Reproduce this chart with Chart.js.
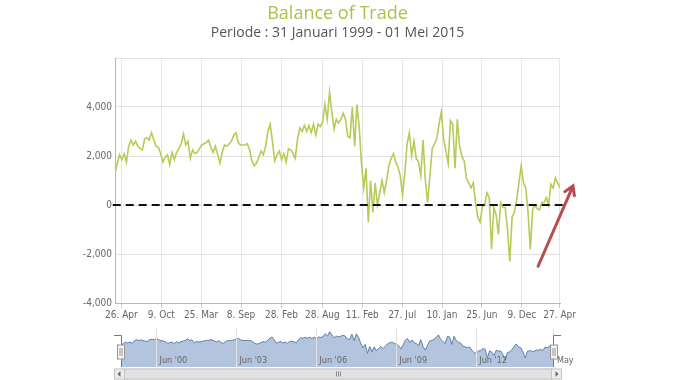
<!DOCTYPE html>
<html>
<head>
    <title>Balance of Trade</title>
    <meta charset="utf-8" />
    <script src="https://cdn.jsdelivr.net/npm/chart.js"></script>
    <style>
        html, body { margin: 0; padding: 0; background: #fff; }
        #wrap { position: relative; width: 675px; height: 380px; }
        #mainChart { position: absolute; left: 0; top: 0; }
        #navChart { position: absolute; left: 0; top: 325px; }
    </style>
</head>
<body>
    <div id="wrap">
        <canvas id="mainChart" width="675" height="325"></canvas>
        <canvas id="navChart" width="675" height="55"></canvas>
    </div>

    <script>
        // data: monthly balance of trade, Jan 1999 .. Apr 2015 (x = month index)
        const startDate = '1999-01-31';
        const tradeValues = [
            1300, 1700, 2050, 1850, 2100, 1750, 2400, 2650, 2450, 2600,
            2400, 2300, 2250, 2700, 2750, 2650, 2950, 2650, 2400, 2350,
            2100, 1750, 1950, 2050, 1650, 2150, 1850, 2150, 2300, 2500,
            2900, 2450, 2600, 1900, 2250, 2100, 2150, 2300, 2450, 2500,
            2550, 2650, 2350, 2150, 2400, 2050, 1700, 2150, 2450, 2400,
            2500, 2600, 2850, 2950, 2550, 2450, 2450, 2450, 2500, 2250,
            1800, 1600, 1700, 1950, 2200, 2050, 2400, 3000, 3300, 2600,
            1800, 2050, 2200, 1850, 2100, 1750, 2300, 2250, 2100, 1900,
            2700, 3150, 3000, 3250, 3000, 3250, 2950, 3300, 2850, 3300,
            3200, 3400, 4100, 3500, 4600, 3800, 3100, 3500, 3350, 3500,
            3750, 3500, 2800, 2750, 4000, 2400, 4100, 3200, 1700, 700,
            1500, -700, 1000, -300, 900, 0, 500, 1000, 500, 1000,
            1600, 1900, 2100, 1750, 1550, 1200, 400, 1300, 2500, 2950,
            2000, 2600, 1900, 1750, 1200, 2650, 1000, 100, 1200, 2300,
            2500, 2700, 3300, 3800, 2700, 2200, 1700, 3450, 3300, 1500,
            3500, 2400, 2000, 1800, 1100, 900, 700, 900, 100, -500,
            -700, -70, 0, 500, 300, -1800, -100, -400, -1200, 100,
            -100, -100, -1000, -2300, -500, -300, 200, 900, 1600, 900,
            700, -300, -1800, -200, 0, -150, -200, 100, 100, 300,
            0, 850, 700, 1100, 900, 700
        ];
        const xTickDates = ['1999-04-26', '2000-10-09', '2002-03-25', '2003-09-08', '2005-02-28', '2006-08-28',
                            '2008-02-11', '2009-07-27', '2011-01-10', '2012-06-25', '2013-12-09', '2015-04-27'];
        const xTickLabels = ['26. Apr', '9. Oct', '25. Mar', '8. Sep', '28. Feb', '28. Aug',
                             '11. Feb', '27. Jul', '10. Jan', '25. Jun', '9. Dec', '27. Apr'];
        const navTickDates = ['2000-06-01', '2003-06-01', '2006-06-01', '2009-06-01', '2012-06-01', '2015-05-01'];
        const navTickLabels = ["Jun '00", "Jun '03", "Jun '06", "Jun '09", "Jun '12", 'May'];
        const yMin = -4000, yMax = 6000, yStep = 2000;

        // date string -> month index
        function monthIndex(d) {
            return (Date.parse(d) - Date.parse(startDate)) / 86400000 / 30.4375;
        }
        const points = tradeValues.map((v, i) => ({ x: i, y: v }));
        const xMax = tradeValues.length - 1;
        const tickFont = { family: "'Liberation Sans Narrow', 'DejaVu Sans Condensed', 'Roboto', sans-serif", size: 10 };

        // red arrow, in data units
        const arrowFrom = { x: 185.4, y: -2500 };
        const arrowTo = { x: 200.7, y: 780 };

        const arrowPlugin = {
            id: 'arrow',
            afterDraw(chart) {
                const c = chart.ctx, xs = chart.scales.x, ys = chart.scales.y;
                const x1 = xs.getPixelForValue(arrowFrom.x), y1 = ys.getPixelForValue(arrowFrom.y);
                const x2 = xs.getPixelForValue(arrowTo.x), y2 = ys.getPixelForValue(arrowTo.y);
                const a = Math.atan2(y2 - y1, x2 - x1);
                c.save();
                c.strokeStyle = '#b84d4d';
                c.lineWidth = 3;
                c.lineCap = 'round';
                c.beginPath();
                c.moveTo(x1, y1);
                c.lineTo(x2, y2);
                c.moveTo(x2 - 10 * Math.cos(a - 0.55), y2 - 10 * Math.sin(a - 0.55));
                c.lineTo(x2, y2);
                c.lineTo(x2 - 10 * Math.cos(a + 0.55), y2 - 10 * Math.sin(a + 0.55));
                c.stroke();
                c.restore();
            }
        };

        const mainChart = new Chart(document.getElementById('mainChart'), {
            type: 'line',
            data: {
                datasets: [{
                    // zero line, drawn on top
                    data: [{ x: -1, y: 0 }, { x: xMax + 1.5, y: 0 }],
                    borderColor: '#111',
                    borderWidth: 2,
                    borderDash: [8, 5],
                    pointRadius: 0,
                    clip: false,
                    order: 0
                }, {
                    label: 'Balance of Trade',
                    data: points,
                    borderColor: '#bac957',
                    borderWidth: 1.6,
                    pointRadius: 0,
                    tension: 0,
                    order: 1
                }]
            },
            options: {
                responsive: false,
                animation: false,
                layout: { padding: 0 },
                plugins: {
                    legend: { display: false },
                    tooltip: { enabled: false },
                    title: {
                        display: true,
                        text: 'Balance of Trade',
                        color: '#a9c24a',
                        font: { family: "'Open Sans', sans-serif", size: 18, weight: 'normal' },
                        padding: { top: 3, bottom: 0 }
                    },
                    subtitle: {
                        display: true,
                        text: 'Periode : 31 Januari 1999 - 01 Mei 2015',
                        color: '#555',
                        font: { family: "'Open Sans', sans-serif", size: 14 },
                        padding: { top: 0, bottom: 16.6 }
                    }
                },
                scales: {
                    x: {
                        type: 'linear',
                        min: 0,
                        max: xMax,
                        afterBuildTicks: s => { s.ticks = xTickDates.map(d => ({ value: monthIndex(d) })); },
                        afterFit: s => { s.height = 22; },
                        ticks: {
                            autoSkip: false,
                            maxRotation: 0,
                            padding: 1,
                            color: '#666',
                            font: tickFont,
                            callback: (v, i) => xTickLabels[i]
                        },
                        grid: { color: '#e6e6e6', tickColor: '#f0c4b4', tickLength: 5 },
                        border: { color: '#f2a488' }
                    },
                    y: {
                        min: yMin,
                        max: yMax,
                        afterFit: s => { s.width = 115; },
                        ticks: {
                            stepSize: yStep,
                            padding: 3,
                            color: '#666',
                            font: tickFont,
                            callback: v => v === yMax ? '' : v.toLocaleString('en-US')
                        },
                        grid: { color: '#e2e2e2', drawTicks: false },
                        border: { color: '#f2a488' }
                    },
                    // empty right margin so the title stays centred on the page
                    yRight: {
                        position: 'right',
                        min: yMin,
                        max: yMax,
                        afterFit: s => { s.width = 115; },
                        ticks: { display: false },
                        grid: { display: false, drawTicks: false },
                        border: { display: false }
                    }
                }
            },
            plugins: [arrowPlugin]
        });

        // navigator handles, outline and scrollbar
        const navPlugin = {
            id: 'navExtras',
            afterDraw(chart) {
                const c = chart.ctx, a = chart.chartArea, xs = chart.scales.x;
                c.save();
                // tick labels inside the navigator
                c.font = "9px 'Liberation Sans Narrow', 'DejaVu Sans Condensed', 'Roboto', sans-serif";
                c.fillStyle = '#666';
                c.textBaseline = 'middle';
                navTickDates.forEach((d, i) => {
                    c.fillText(navTickLabels[i], xs.getPixelForValue(monthIndex(d)) + 3, a.bottom - 6);
                });
                // outline
                c.strokeStyle = '#777';
                c.lineWidth = 1;
                c.beginPath();
                c.moveTo(a.left - 7, a.top + 7.5); c.lineTo(a.left + 0.5, a.top + 7.5); c.lineTo(a.left + 0.5, a.bottom);
                c.moveTo(a.right + 7, a.top + 7.5); c.lineTo(a.right - 0.5, a.top + 7.5); c.lineTo(a.right - 0.5, a.bottom);
                c.stroke();
                // handles
                [a.left, a.right].forEach(hx => {
                    c.fillStyle = '#f2f2f2';
                    c.strokeStyle = '#999';
                    c.fillRect(hx - 3.5, a.top + 17, 7, 14);
                    c.strokeRect(hx - 3.5, a.top + 17, 7, 14);
                    c.beginPath();
                    c.moveTo(hx - 1, a.top + 20); c.lineTo(hx - 1, a.top + 28);
                    c.moveTo(hx + 1, a.top + 20); c.lineTo(hx + 1, a.top + 28);
                    c.stroke();
                });
                // scrollbar
                const sl = 114, sr = 562, st = a.bottom + 1.5, sh = 11;
                c.fillStyle = '#eeeeee';
                c.fillRect(sl, st, sr - sl, sh);
                c.fillStyle = '#e2e2e2';
                c.strokeStyle = '#c4c4c4';
                c.fillRect(sl + 10, st, sr - sl - 20, sh);
                c.strokeRect(sl + 10.5, st + 0.5, sr - sl - 21, sh - 1);
                c.fillStyle = '#e8e8e8';
                c.strokeRect(sl + 0.5, st + 0.5, 10, sh - 1);
                c.strokeRect(sr - 10.5, st + 0.5, 10, sh - 1);
                c.fillStyle = '#666';
                c.beginPath();
                c.moveTo(sl + 3.5, st + sh / 2); c.lineTo(sl + 6.5, st + sh / 2 - 3); c.lineTo(sl + 6.5, st + sh / 2 + 3);
                c.closePath();
                c.moveTo(sr - 3.5, st + sh / 2); c.lineTo(sr - 6.5, st + sh / 2 - 3); c.lineTo(sr - 6.5, st + sh / 2 + 3);
                c.closePath();
                c.fill();
                const gx = (sl + sr) / 2;
                c.strokeStyle = '#888';
                c.beginPath();
                [-2, 0, 2].forEach(o => { c.moveTo(gx + o + 0.5, st + 3); c.lineTo(gx + o + 0.5, st + sh - 3); });
                c.stroke();
                c.restore();
            }
        };

        const navChart = new Chart(document.getElementById('navChart'), {
            type: 'line',
            data: {
                datasets: [{
                    data: points,
                    borderColor: '#5f7da8',
                    borderWidth: 1,
                    backgroundColor: '#b3c5de',
                    fill: 'start',
                    pointRadius: 0,
                    tension: 0
                }]
            },
            options: {
                responsive: false,
                animation: false,
                layout: { padding: { left: 121, right: 121, top: 3, bottom: 13 } },
                plugins: { legend: { display: false }, tooltip: { enabled: false } },
                scales: {
                    x: {
                        type: 'linear',
                        min: 0,
                        max: xMax,
                        afterBuildTicks: s => { s.ticks = navTickDates.map(d => ({ value: monthIndex(d) })); },
                        afterFit: s => { s.height = 0; },
                        ticks: { display: false },
                        grid: { color: '#e2e2e2', drawTicks: false, z: 1 },
                        border: { display: false }
                    },
                    y: {
                        display: false,
                        min: -4000,
                        max: 5500
                    }
                }
            },
            plugins: [navPlugin]
        });
    </script>
</body>
</html>
